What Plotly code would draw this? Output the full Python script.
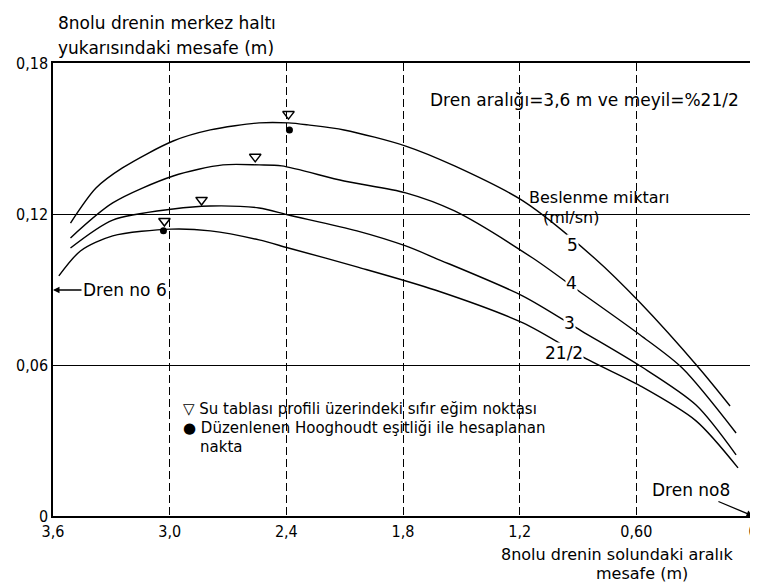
import plotly.graph_objects as go

# ---- data ----
x_tick_vals = [3.6, 3.0, 2.4, 1.8, 1.2, 0.6, 0]
x_tick_text = ["3,6", "3,0", "2,4", "1,8", "1,2", "0,60", "0"]
y_tick_vals = [0, 0.06, 0.12, 0.18]
y_tick_text = ["0", "0,06", "0,12", "0,18"]

c5_x = [3.510, 3.379, 3.243, 2.982, 2.791, 2.540, 2.389, 2.288, 2.103, 1.786, 1.535, 1.183, 0.816, 0.580, 0.278, 0.118]
c5_y = [0.1164, 0.1303, 0.1383, 0.1490, 0.1534, 0.1562, 0.1562, 0.1554, 0.1534, 0.1470, 0.1391, 0.1252, 0.1025, 0.0847, 0.0588, 0.0437]

c4_x = [3.510, 3.293, 2.982, 2.726, 2.540, 2.424, 2.103, 1.786, 1.535, 1.133, 0.896, 0.580, 0.364, 0.087]
c4_y = [0.1105, 0.1244, 0.1351, 0.1395, 0.1395, 0.1391, 0.1331, 0.1284, 0.1212, 0.1025, 0.0894, 0.0719, 0.0588, 0.0330]

c3_x = [3.510, 3.293, 2.982, 2.791, 2.540, 2.389, 2.037, 1.786, 1.635, 1.183, 0.881, 0.580, 0.293, 0.087]
c3_y = [0.1065, 0.1176, 0.1220, 0.1232, 0.1224, 0.1196, 0.1133, 0.1073, 0.1025, 0.0874, 0.0735, 0.0596, 0.0441, 0.0243]

c2_x = [3.570, 3.459, 3.293, 2.992, 2.791, 2.540, 2.389, 2.037, 1.635, 1.183, 0.846, 0.580, 0.293, 0.077]
c2_y = [0.0954, 0.1053, 0.1113, 0.1140, 0.1133, 0.1097, 0.1065, 0.0990, 0.0898, 0.0767, 0.0620, 0.0517, 0.0378, 0.0191]

tri_x = [2.389, 2.560, 2.836, 3.027]
tri_y = [0.1597, 0.1427, 0.1256, 0.1172]
dot_x = [2.384, 3.032]
dot_y = [0.1534, 0.1133]

curve_labels = ["5", "4", "3", "21/2"]
label_x = [0.927, 0.932, 0.942, 0.972]
label_y = [0.1075, 0.0926, 0.0767, 0.0648]

FONT = "DejaVu Sans"
TICKFONT = "DejaVu Sans Condensed, DejaVu Sans"
FS = 17
fig = go.Figure()

for cx, cy in [(c5_x, c5_y), (c4_x, c4_y), (c3_x, c3_y), (c2_x, c2_y)]:
    fig.add_trace(go.Scatter(x=cx, y=cy, mode="lines",
                             line=dict(color="black", width=1.4, shape="spline", smoothing=0.8),
                             hoverinfo="skip", showlegend=False))

fig.add_trace(go.Scatter(x=tri_x, y=tri_y, mode="markers",
                         marker=dict(symbol="triangle-down-open", size=10, color="black",
                                     line=dict(width=1.5, color="black")),
                         showlegend=False))
fig.add_trace(go.Scatter(x=dot_x, y=dot_y, mode="markers",
                         marker=dict(symbol="circle", size=7, color="black"),
                         showlegend=False))

ann = []
for t, lx, ly in zip(curve_labels, label_x, label_y):
    ann.append(dict(x=lx, y=ly, xref="x", yref="y", text=t, showarrow=False,
                    font=dict(family=FONT, size=FS, color="black"), bgcolor="white",
                    borderpad=0))

def ptext(x, y, text, xanchor="left", size=FS):
    ann.append(dict(x=x, y=y, xref="paper", yref="paper", text=text, showarrow=False,
                    xanchor=xanchor, yanchor="middle",
                    font=dict(family=FONT, size=size, color="black")))

# y title
ptext(0.004, 1.088, "8nolu drenin merkez haltı")
ptext(0.004, 1.033, "yukarısındaki mesafe (m)")
# x title
ptext(0.806, -0.084, "8nolu drenin solundaki aralık", xanchor="center", size=16)
ptext(0.841, -0.128, "mesafe (m)", xanchor="center", size=16)
# info texts
ptext(0.535, 0.918, "Dren aralığı=3,6 m ve meyil=%21/2")
ptext(0.677, 0.702, "Beslenme miktarı", size=16)
ptext(0.697, 0.660, "(ml/sn)", size=16)
ptext(0.183, 0.236, "▽ Su tablası profili üzerindeki sıfır eğim noktası", size=15)
ptext(0.183, 0.194, "● Düzenlenen Hooghoudt eşitliği ile hesaplanan", size=15)
ptext(0.207, 0.152, "nakta", size=15)

# arrows
ann.append(dict(x=3.6, y=0.0898, xref="x", yref="y", ax=72, ay=0, text="Dren no 6",
                showarrow=True, arrowhead=2, arrowsize=1, arrowwidth=1.3, arrowcolor="black",
                font=dict(family=FONT, size=FS, color="black")))
ann.append(dict(x=0, y=0, xref="x", yref="y", ax=-62, ay=-26, text="Dren no8",
                showarrow=True, arrowhead=2, arrowsize=1, arrowwidth=1.3, arrowcolor="black",
                font=dict(family=FONT, size=FS, color="black")))

fig.update_layout(
    width=758, height=585,
    margin=dict(l=39, r=8, t=55, b=77),
    paper_bgcolor="white", plot_bgcolor="white",
    showlegend=False,
    annotations=ann,
    xaxis=dict(range=[3.6, 0], tickvals=x_tick_vals, ticktext=x_tick_text,
               showgrid=True, gridcolor="black", gridwidth=1, griddash="8px,4px",
               showline=True, linecolor="black", linewidth=1.5, mirror=True,
               ticks="", zeroline=False,
               tickfont=dict(family=TICKFONT, size=16, color="black")),
    yaxis=dict(range=[0, 0.18], tickvals=y_tick_vals, ticktext=y_tick_text,
               showgrid=True, gridcolor="black", gridwidth=1.2,
               showline=True, linecolor="black", linewidth=1.5, mirror=True,
               ticks="", zeroline=False,
               tickfont=dict(family=TICKFONT, size=16, color="black")),
)

fig.write_html("out.html")
